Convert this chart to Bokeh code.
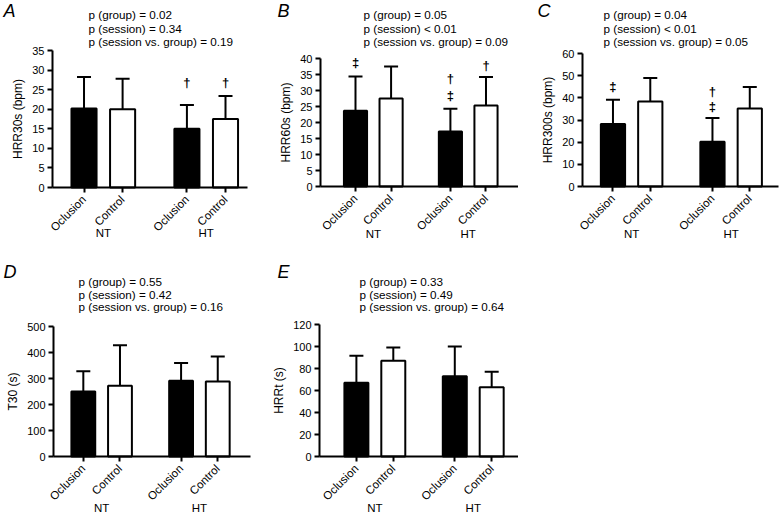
import math
from bokeh.plotting import figure
from bokeh.layouts import row, column
from bokeh.models import (Range1d, FixedTicker, SingleIntervalTicker, ColumnDataSource, Label)
from bokeh.embed import file_html
from bokeh.resources import INLINE
from bokeh.core.properties import value

# ---------------- data ----------------
groups = ["NT", "HT"]
sessions = ["Oclusion", "Control"]

A_mean = [20.2, 20.0, 15.0, 17.5]
A_sd = [8.0, 7.8, 6.1, 5.9]
A_p = ["p (group) = 0.02", "p (session) = 0.34", "p (session vs. group) = 0.19"]
A_sym = [(2, "\u2020", 26.8), (3, "\u2020", 26.8)]

B_mean = [23.7, 27.5, 17.2, 25.3]
B_sd = [10.7, 10.0, 7.1, 8.9]
B_p = ["p (group) = 0.05", "p (session) < 0.01", "p (session vs. group) = 0.09"]
B_sym = [(0, "\u2021", 38.7), (2, "\u2021", 28.5), (2, "\u2020", 33.7), (3, "\u2020", 37.9)]

C_mean = [28.2, 38.3, 20.2, 35.2]
C_sd = [10.9, 10.7, 10.7, 9.7]
C_p = ["p (group) = 0.04", "p (session) < 0.01", "p (session vs. group) = 0.05"]
C_sym = [(0, "\u2021", 45.0), (2, "\u2021", 35.9), (2, "\u2020", 42.9)]

D_mean = [250, 272, 291, 288]
D_sd = [78, 156, 69, 97]
D_p = ["p (group) = 0.55", "p (session) = 0.42", "p (session vs. group) = 0.16"]
D_sym = []

E_mean = [67, 87, 73, 63]
E_sd = [24.5, 12, 27, 14]
E_p = ["p (group) = 0.33", "p (session) = 0.49", "p (session vs. group) = 0.64"]
E_sym = []

FONT = "Liberation Sans"
GROUP_STEP = 8
SESSION_STEP = 3


def make_panel(letter, ylabel, mean, sd, ymax, ystep, ptexts, syms, g):
    ox, oy, w, h = g["fig"]
    left, right, top, bottom = g["axes"]          # page pixels of the axis box
    xa0, xa1 = g["xr"]                              # data x at left / right axis ends
    u = (right - left) / (xa1 - xa0)
    v = (bottom - top) / ymax
    x_range = Range1d(xa0 - (left - ox) / u, xa1 + (ox + w - right) / u)
    y_range = Range1d(-(oy + h - bottom) / v, ymax + (top - oy) / v)

    xs = [gi * GROUP_STEP + si * SESSION_STEP for gi in range(len(groups)) for si in range(len(sessions))]
    labels = [s for _ in groups for s in sessions]
    colors = [c for _ in groups for c in ["black", "white"]]
    upper = [m + s for m, s in zip(mean, sd)]

    p = figure(width=w, height=h, x_range=x_range, y_range=y_range,
               output_backend="svg", toolbar_location=None,
               min_border=0, min_border_left=0, min_border_right=0,
               min_border_top=0, min_border_bottom=0)
    p.title.visible = False
    p.outline_line_color = None
    p.xgrid.visible = False
    p.ygrid.visible = False
    p.background_fill_color = "white"
    p.border_fill_color = "white"

    src = ColumnDataSource(dict(x=xs, mean=mean, upper=upper, color=colors))
    p.segment(x0="x", y0="mean", x1="x", y1="upper", source=src,
              line_color="black", line_width=2)
    p.scatter(x="x", y="upper", marker="dash", size=14, source=src,
              line_color="black", line_width=2)
    p.vbar(x="x", top="mean", bottom=0, width=1.95, fill_color="color",
           line_color="black", line_width=2, source=src)

    if syms:
        ssrc = ColumnDataSource(dict(x=[xs[i] for i, _, _ in syms],
                                     y=[yv for _, _, yv in syms],
                                     t=[t for _, t, _ in syms]))
        p.text(x="x", y="y", text="t", source=ssrc, text_align="center",
               text_baseline="middle", text_font=value(FONT), text_font_size="13px",
               text_font_style="bold", text_color="black")

    # axes drawn at fixed locations inside the (full-figure) frame
    xa = p.xaxis[0]
    xa.ticker = FixedTicker(ticks=xs, minor_ticks=[])
    xa.major_label_overrides = {x: l for x, l in zip(xs, labels)}
    xa.major_label_orientation = math.pi / 4
    xa.bounds = (xa0, xa1)
    xa.fixed_location = 0
    ya = p.yaxis[0]
    ya.ticker = SingleIntervalTicker(interval=ystep, num_minor_ticks=0)
    ya.axis_label = ylabel
    ya.bounds = (0, ymax)
    ya.fixed_location = xa0
    for ax in (xa, ya):
        ax.axis_line_width = 2
        ax.axis_line_color = "black"
        ax.major_tick_line_width = 2
        ax.major_tick_line_color = "black"
        ax.major_tick_out = 5
        ax.major_tick_in = 0
        ax.minor_tick_line_color = None
        ax.major_label_text_font = FONT
        ax.major_label_text_font_size = "11px"
        ax.major_label_text_color = "black"
        ax.major_label_standoff = 3
    xa.major_label_text_font_size = "11.5px"
    xa.major_label_standoff = 5
    ya.axis_label_text_font = FONT
    ya.axis_label_text_font_size = "12px"
    ya.axis_label_text_font_style = "normal"
    ya.axis_label_text_color = "black"
    ya.axis_label_standoff = 4

    # group labels
    for gi, gname in enumerate(groups):
        gx = gi * GROUP_STEP + SESSION_STEP / 2
        p.add_layout(Label(x=gx, y=oy + h - g["gy"], x_units="data", y_units="screen",
                           text=gname, text_align="center", text_baseline="middle",
                           text_font=FONT, text_font_size="11.5px", text_color="black"))
    # p-values
    tx, ty0, dy = g["ptext"]
    for i, t in enumerate(ptexts):
        p.add_layout(Label(x=tx - ox, y=oy + h - (ty0 + i * dy), x_units="screen",
                           y_units="screen", text=t, text_align="left",
                           text_baseline="middle", text_font=FONT,
                           text_font_size="11.7px", text_color="black"))
    # panel letter
    lx, ly = g["letter"]
    p.add_layout(Label(x=lx - ox, y=oy + h - ly, x_units="screen", y_units="screen",
                       text=letter, text_align="left", text_baseline="middle",
                       text_font=FONT, text_font_size="18px", text_font_style="italic",
                       text_color="black"))
    return p


# geometry in page pixels (the page content starts at the top-left corner)
gA = dict(fig=(0, 0, 263, 260), axes=(52, 247, 50, 187), xr=(-2.45, 12.71),
          ptext=(88, 14, 13.5), letter=(3, 10), gy=232)
gB = dict(fig=(263, 0, 255, 260), axes=(320, 518, 58, 186), xr=(-2.95, 13.74),
          ptext=(363, 14, 13.5), letter=(277, 10), gy=233)
gC = dict(fig=(518, 0, 264, 260), axes=(582, 778, 53, 186), xr=(-2.45, 13.31),
          ptext=(603, 14, 13.5), letter=(537, 10), gy=233)
gD = dict(fig=(0, 260, 263, 260), axes=(53, 250, 326, 456), xr=(-2.44, 13.68),
          ptext=(78, 281, 12.5), letter=(3, 271), gy=507)
gE = dict(fig=(263, 260, 255, 260), axes=(319, 518, 324, 456), xr=(-3.0, 13.18),
          ptext=(359, 281, 12.5), letter=(277, 271), gy=507)

pA = make_panel("A", "HRR30s (bpm)", A_mean, A_sd, 35, 5, A_p, A_sym, gA)
pB = make_panel("B", "HRR60s (bpm)", B_mean, B_sd, 40, 5, B_p, B_sym, gB)
pC = make_panel("C", "HRR300s (bpm)", C_mean, C_sd, 60, 10, C_p, C_sym, gC)
pD = make_panel("D", "T30 (s)", D_mean, D_sd, 500, 100, D_p, D_sym, gD)
pE = make_panel("E", "HRRt (s)", E_mean, E_sd, 120, 20, E_p, E_sym, gE)

layout = column(row(pA, pB, pC, spacing=0), row(pD, pE, spacing=0), spacing=0)
open("out.html", "w").write(file_html(layout, INLINE))
